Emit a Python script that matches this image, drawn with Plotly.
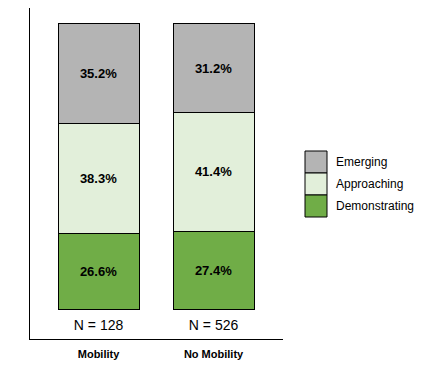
import plotly.graph_objects as go

categories = ["Mobility", "No Mobility"]
n_labels = ["N = 128", "N = 526"]
series_names = ["Demonstrating", "Approaching", "Emerging"]
demonstrating = [26.6, 27.4]
approaching = [38.3, 41.4]
emerging = [35.2, 31.2]
colors = ["#70ad47", "#e2efda", "#b4b4b4"]

W, H = 432, 384
OFF = 8  # page body margin
L, R, T, B = 30 - OFF, 149 + OFF, 0, 45 + OFF
font_family = "Liberation Sans, Arial, sans-serif"

fig = go.Figure()
xs = list(range(len(categories)))
for name, vals, col in zip(series_names, [demonstrating, approaching, emerging], colors):
    fig.add_trace(go.Bar(
        x=xs, y=vals, name=name, width=0.704,
        marker=dict(color=col, line=dict(color="black", width=1)),
        text=[f"{v:.1f}%" for v in vals],
        textposition="inside", insidetextanchor="middle",
        textfont=dict(family=font_family, size=13, color="black", weight="bold"),
        showlegend=False, hoverinfo="skip",
    ))

# N labels below bars
fig.add_trace(go.Scatter(
    x=xs, y=[-6] * len(xs), mode="text", text=n_labels,
    textfont=dict(family=font_family, size=14, color="black"),
    showlegend=False, hoverinfo="skip",
))

# custom legend (top to bottom: Emerging, Approaching, Demonstrating)
pw = W - L - R
ph = H - T - B
def px_x(p):
    return (p - OFF - L) / pw
def px_y(p):
    return (H - B - (p - OFF)) / ph

box_top = 151
box_h = 22
for i, (name, col) in enumerate(reversed(list(zip(series_names, colors)))):
    y0 = box_top + i * box_h
    fig.add_shape(type="rect", xref="paper", yref="paper",
                  x0=px_x(305), x1=px_x(327), y0=px_y(y0 + box_h), y1=px_y(y0),
                  fillcolor=col, line=dict(color="black", width=1))
    fig.add_annotation(xref="paper", yref="paper", x=px_x(334), y=px_y(y0 + box_h / 2),
                       text=name, showarrow=False, xanchor="left", yanchor="middle",
                       font=dict(family=font_family, size=12, color="black"))

fig.update_layout(
    barmode="stack",
    width=W, height=H,
    margin=dict(l=L, r=R, t=T, b=B, pad=0),
    plot_bgcolor="white", paper_bgcolor="white",
    font=dict(family=font_family, color="black"),
    xaxis=dict(range=[-0.596, 1.604], tickvals=xs,
               ticktext=[f"<b>{c}</b>" for c in categories],
               tickfont=dict(size=11, color="black"),
               showline=True, linecolor="black", linewidth=1,
               showgrid=False, zeroline=False, ticks="", ticklabelstandoff=5),
    yaxis=dict(range=[-10.45, 105.2 + 1 / 2.87], showline=True, linecolor="black", linewidth=1,
               showgrid=False, zeroline=False, showticklabels=False, ticks=""),
)

fig.write_html("out.html")
